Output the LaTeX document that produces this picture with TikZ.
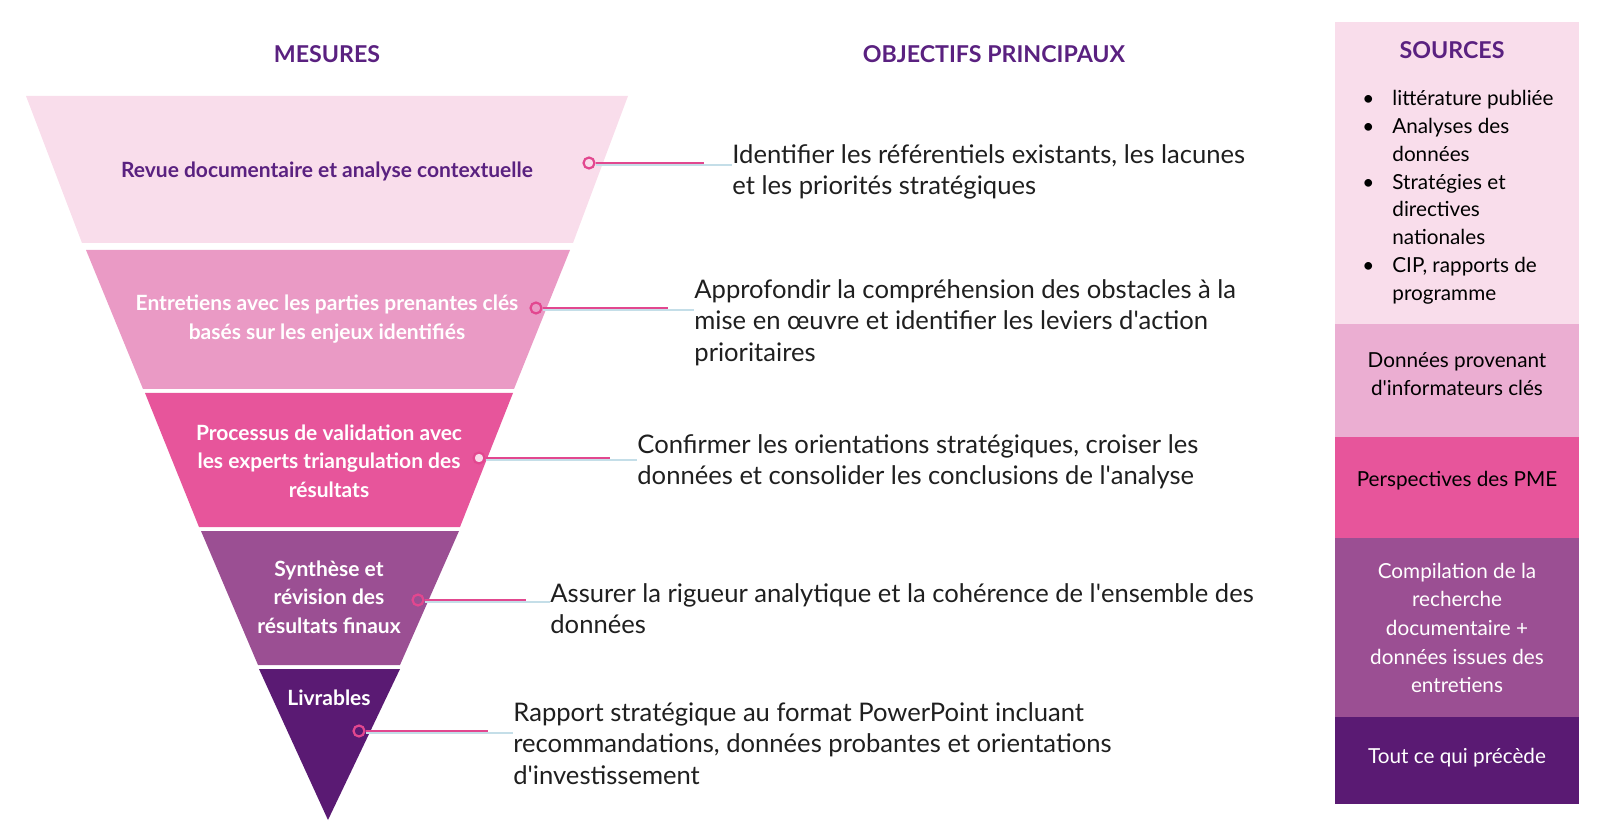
\documentclass[tikz,border=0pt]{standalone}
\usepackage{fontspec}
\setmainfont{Lato}
\usetikzlibrary{calc,positioning}

\definecolor{bandA}{HTML}{F9DDEB}
\definecolor{bandB}{HTML}{EA9AC5}
\definecolor{bandC}{HTML}{E7559B}
\definecolor{bandD}{HTML}{9B4F93}
\definecolor{bandE}{HTML}{5A1A73}
\definecolor{srcB}{HTML}{EBAED2}
\definecolor{headpurple}{HTML}{5A2180}
\definecolor{pinkline}{HTML}{E2478F}
\definecolor{glowline}{HTML}{C4DEE8}

\newcommand\ap{\textquotesingle}

\tikzset{
  stagelabel/.style={font=\fontsize{10.5}{14.3}\selectfont\bfseries,text=white,align=center,inner sep=0},
  objtext/.style={font=\fontsize{12.8}{15.8}\selectfont,text=black!88,anchor=north west,align=left,inner sep=0},
  srctext/.style={font=\fontsize{10.35}{14.3}\selectfont,align=center,inner sep=0},
  heading/.style={font=\fontsize{11.6}{13}\selectfont\bfseries,text=headpurple},
  pin/.style={circle,draw=pinkline,line width=1.1pt,minimum size=5.5pt,inner sep=0},
}

\begin{document}
\begin{tikzpicture}[x=.5pt,y=-.5pt]
    \useasboundingbox (0,0) rectangle (1600,839);
    % funnel
    \fill[bandA] (26,96) -- (628,96) -- (573,243) -- (82,243) -- cycle;
    \fill[bandB] (86,250) -- (570,250) -- (514,389) -- (143,389) -- cycle;
    \fill[bandC] (145,393) -- (513,393) -- (460,527) -- (199,527) -- cycle;
    \fill[bandD] (201,531) -- (459,531) -- (400,665) -- (258,665) -- cycle;
    \fill[bandE] (259,669) -- (400,669) -- (328,820) -- cycle;
    % sources column
    \fill[bandA] (1335,22) rectangle (1579,324);
    \fill[srcB] (1335,324) rectangle (1579,437);
    \fill[bandC] (1335,437) rectangle (1579,538);
    \fill[bandD] (1335,538) rectangle (1579,717);
    \fill[bandE] (1335,717) rectangle (1579,804);
    % headings
    \node[heading] (hmes) at (327,54) {MESURES};
    \node[heading] (hobj) at (994,54) {OBJECTIFS PRINCIPAUX};
    \node[heading] (hsrc) at (1452,50) {SOURCES};
    % stages
    \node[stagelabel,text=headpurple] (s1) at (327,171) {Revue documentaire et analyse contextuelle};
    \node[stagelabel] (s2) at (327,319) {Entretiens avec les parties prenantes clés\\basés sur les enjeux identifiés};
    \node[stagelabel] (s3) at (329,461) {Processus de validation avec\\les experts triangulation des\\résultats};
    \node[stagelabel] (s4) at (329,597) {Synthèse et\\révision des\\résultats finaux};
    \node[stagelabel] (s5) at (329,698) {Livrables};
    % objectives
    \node[objtext] (o1) at (732,144) {Identifier les référentiels existants, les lacunes\\et les priorités stratégiques};
    \node[objtext] (o2) at (694,279) {Approfondir la compréhension des obstacles à la\\mise en œuvre et identifier les leviers d\ap action\\prioritaires};
    \node[objtext] (o3) at (637,434) {Confirmer les orientations stratégiques, croiser les\\données et consolider les conclusions de l\ap analyse};
    \node[objtext] (o4) at (550,583) {Assurer la rigueur analytique et la cohérence de l\ap ensemble des\\données};
    \node[objtext] (o5) at (513,702) {Rapport stratégique au format PowerPoint incluant\\recommandations, données probantes et orientations\\d\ap investissement};
    % pins
    \node[pin,fill=bandA] (p1) at (589,163) {};
    \node[pin,fill=bandB] (p2) at (536,308) {};
    \node[pin,fill=bandA] (p3) at (479,458) {};
    \node[pin,fill=bandD] (p4) at (418,600) {};
    \node[pin,fill=bandE] (p5) at (359,731) {};
    % connectors
    \draw[glowline,line width=1pt] ([yshift=-1pt]p1.east) -- ([yshift=-1pt]p1.east -| o1.west);
    \draw[pinkline,line width=1.2pt] (p1.east) -- ($(p1.east -| o1.west)+(-28,0)$);
    \draw[glowline,line width=1pt] ([yshift=-1pt]p2.east) -- ([yshift=-1pt]p2.east -| o2.west);
    \draw[pinkline,line width=1.2pt] (p2.east) -- ($(p2.east -| o2.west)+(-26,0)$);
    \draw[glowline,line width=1pt] ([yshift=-1pt]p3.east) -- ([yshift=-1pt]p3.east -| o3.west);
    \draw[pinkline,line width=1.2pt] (p3.east) -- ($(p3.east -| o3.west)+(-27,0)$);
    \draw[glowline,line width=1pt] ([yshift=-1pt]p4.east) -- ([yshift=-1pt]p4.east -| o4.west);
    \draw[pinkline,line width=1.2pt] (p4.east) -- ($(p4.east -| o4.west)+(-24,0)$);
    \draw[glowline,line width=1pt] ([yshift=-1pt]p5.east) -- ([yshift=-1pt]p5.east -| o5.west);
    \draw[pinkline,line width=1.2pt] (p5.east) -- ($(p5.east -| o5.west)+(-25,0)$);
    % sources
    \node[srctext,anchor=north west,align=left,font=\fontsize{10.35}{13.9}\selectfont] (src1) at (1362,90)
      {\makebox[15pt][l]{•}littérature publiée\\\makebox[15pt][l]{•}Analyses des\\\hspace*{15pt}données\\\makebox[15pt][l]{•}Stratégies et\\\hspace*{15pt}directives\\\hspace*{15pt}nationales\\\makebox[15pt][l]{•}CIP, rapports de\\\hspace*{15pt}programme};
    \node[srctext] (src2) at (1457,374) {Données provenant\\d\ap informateurs clés};
    \node[srctext] (src3) at (1457,481) {Perspectives des PME};
    \node[srctext,text=white] (src4) at (1457,628) {Compilation de la\\recherche\\documentaire +\\données issues des\\entretiens};
    \node[srctext,text=white] (src5) at (1457,758) {Tout ce qui précède};
\end{tikzpicture}
\end{document}
